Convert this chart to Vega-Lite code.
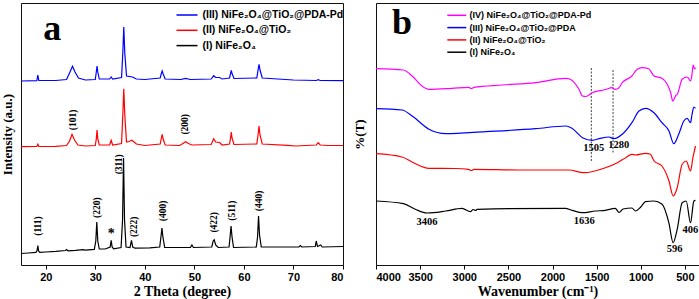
{
  "$schema": "https://vega.github.io/schema/vega-lite/v6.json",
  "padding": {"left": 0, "top": 2, "right": 2, "bottom": 0},
  "background": "white",
  "spacing": 8,
  "datasets": {
    "xrd": [
      {"sample":"I","theta":15,"intensity":11.5},{"sample":"I","theta":16.5,"intensity":12},{"sample":"I","theta":18.0,"intensity":12.6},{"sample":"I","theta":18.25,"intensity":14.5},{"sample":"I","theta":18.4,"intensity":19.5},{"sample":"I","theta":18.55,"intensity":14},{"sample":"I","theta":18.8,"intensity":12.7},{"sample":"I","theta":20,"intensity":13},{"sample":"I","theta":22,"intensity":13.6},{"sample":"I","theta":24,"intensity":14.5},{"sample":"I","theta":24.2,"intensity":15.5},{"sample":"I","theta":24.5,"intensity":14.2},{"sample":"I","theta":26,"intensity":14.6},{"sample":"I","theta":27.5,"intensity":15.3},{"sample":"I","theta":28,"intensity":14.8},{"sample":"I","theta":29.8,"intensity":15.6},{"sample":"I","theta":30.1,"intensity":24},{"sample":"I","theta":30.3,"intensity":43},{"sample":"I","theta":30.5,"intensity":24},{"sample":"I","theta":30.8,"intensity":16},{"sample":"I","theta":32.0,"intensity":16},{"sample":"I","theta":33.0,"intensity":18},{"sample":"I","theta":33.2,"intensity":24.7},{"sample":"I","theta":33.4,"intensity":18},{"sample":"I","theta":33.7,"intensity":16.2},{"sample":"I","theta":35.2,"intensity":17.5},{"sample":"I","theta":35.5,"intensity":45},{"sample":"I","theta":35.7,"intensity":107},{"sample":"I","theta":35.9,"intensity":45},{"sample":"I","theta":36.2,"intensity":18},{"sample":"I","theta":37.0,"intensity":17.5},{"sample":"I","theta":37.3,"intensity":24.7},{"sample":"I","theta":37.55,"intensity":18},{"sample":"I","theta":38.0,"intensity":16.8},{"sample":"I","theta":41,"intensity":17.2},{"sample":"I","theta":43.0,"intensity":18},{"sample":"I","theta":43.25,"intensity":28},{"sample":"I","theta":43.45,"intensity":37},{"sample":"I","theta":43.65,"intensity":28},{"sample":"I","theta":44.0,"intensity":17.5},{"sample":"I","theta":49.2,"intensity":17.5},{"sample":"I","theta":49.5,"intensity":20},{"sample":"I","theta":49.8,"intensity":17.5},{"sample":"I","theta":53.5,"intensity":18},{"sample":"I","theta":53.8,"intensity":24},{"sample":"I","theta":54.0,"intensity":25.3},{"sample":"I","theta":54.3,"intensity":20},{"sample":"I","theta":54.8,"intensity":17.5},{"sample":"I","theta":57.0,"intensity":18},{"sample":"I","theta":57.2,"intensity":28},{"sample":"I","theta":57.4,"intensity":39},{"sample":"I","theta":57.6,"intensity":28},{"sample":"I","theta":57.9,"intensity":17.5},{"sample":"I","theta":62.5,"intensity":18},{"sample":"I","theta":62.75,"intensity":28},{"sample":"I","theta":62.95,"intensity":49},{"sample":"I","theta":63.15,"intensity":30},{"sample":"I","theta":63.5,"intensity":18},{"sample":"I","theta":66.5,"intensity":18},{"sample":"I","theta":71.1,"intensity":18},{"sample":"I","theta":71.4,"intensity":19.5},{"sample":"I","theta":71.7,"intensity":18},{"sample":"I","theta":74.4,"intensity":18.5},{"sample":"I","theta":74.6,"intensity":24},{"sample":"I","theta":74.85,"intensity":18.5},{"sample":"I","theta":75.5,"intensity":20},{"sample":"I","theta":75.8,"intensity":18},{"sample":"I","theta":80,"intensity":18.5},
      {"sample":"II","theta":15,"intensity":118.3},{"sample":"II","theta":18.2,"intensity":118.5},{"sample":"II","theta":18.4,"intensity":120.7},{"sample":"II","theta":18.6,"intensity":118.5},{"sample":"II","theta":22,"intensity":118.7},{"sample":"II","theta":24.2,"intensity":119.5},{"sample":"II","theta":24.8,"intensity":124},{"sample":"II","theta":25.3,"intensity":130.7},{"sample":"II","theta":25.8,"intensity":125},{"sample":"II","theta":26.5,"intensity":120},{"sample":"II","theta":28,"intensity":119},{"sample":"II","theta":30.0,"intensity":119.5},{"sample":"II","theta":30.2,"intensity":126},{"sample":"II","theta":30.35,"intensity":135},{"sample":"II","theta":30.5,"intensity":126},{"sample":"II","theta":30.8,"intensity":120},{"sample":"II","theta":32.9,"intensity":120},{"sample":"II","theta":33.2,"intensity":124.7},{"sample":"II","theta":33.5,"intensity":120},{"sample":"II","theta":35.3,"intensity":121.5},{"sample":"II","theta":35.55,"intensity":150},{"sample":"II","theta":35.75,"intensity":176.3},{"sample":"II","theta":35.95,"intensity":150},{"sample":"II","theta":36.3,"intensity":123},{"sample":"II","theta":36.8,"intensity":123.5},{"sample":"II","theta":37.4,"intensity":124.7},{"sample":"II","theta":38.3,"intensity":121},{"sample":"II","theta":40,"intensity":119.5},{"sample":"II","theta":43.1,"intensity":121},{"sample":"II","theta":43.3,"intensity":126},{"sample":"II","theta":43.5,"intensity":130.7},{"sample":"II","theta":43.7,"intensity":126},{"sample":"II","theta":44.1,"intensity":120},{"sample":"II","theta":47.0,"intensity":119.5},{"sample":"II","theta":47.7,"intensity":121.5},{"sample":"II","theta":48.2,"intensity":123.3},{"sample":"II","theta":48.8,"intensity":121.5},{"sample":"II","theta":49.5,"intensity":120},{"sample":"II","theta":53.4,"intensity":120.5},{"sample":"II","theta":53.9,"intensity":126.3},{"sample":"II","theta":54.3,"intensity":123},{"sample":"II","theta":55.1,"intensity":122.5},{"sample":"II","theta":55.6,"intensity":120},{"sample":"II","theta":57.1,"intensity":121},{"sample":"II","theta":57.3,"intensity":127},{"sample":"II","theta":57.45,"intensity":133},{"sample":"II","theta":57.6,"intensity":127},{"sample":"II","theta":58,"intensity":120.5},{"sample":"II","theta":62.6,"intensity":121},{"sample":"II","theta":62.85,"intensity":130},{"sample":"II","theta":63.05,"intensity":139},{"sample":"II","theta":63.25,"intensity":130},{"sample":"II","theta":63.7,"intensity":121},{"sample":"II","theta":68.8,"intensity":119.7},{"sample":"II","theta":70.5,"intensity":119},{"sample":"II","theta":74.6,"intensity":120},{"sample":"II","theta":75.0,"intensity":122.3},{"sample":"II","theta":75.4,"intensity":120},{"sample":"II","theta":77,"intensity":119.5},{"sample":"II","theta":80,"intensity":119.5},
      {"sample":"III","theta":15,"intensity":184},{"sample":"III","theta":18.2,"intensity":184.3},{"sample":"III","theta":18.4,"intensity":190},{"sample":"III","theta":18.6,"intensity":184.5},{"sample":"III","theta":22,"intensity":184.5},{"sample":"III","theta":24.2,"intensity":185.5},{"sample":"III","theta":24.8,"intensity":192},{"sample":"III","theta":25.4,"intensity":198.7},{"sample":"III","theta":25.9,"intensity":193},{"sample":"III","theta":26.6,"intensity":187},{"sample":"III","theta":28,"intensity":185},{"sample":"III","theta":30.0,"intensity":185.5},{"sample":"III","theta":30.2,"intensity":193},{"sample":"III","theta":30.35,"intensity":199},{"sample":"III","theta":30.5,"intensity":193},{"sample":"III","theta":30.8,"intensity":186},{"sample":"III","theta":32.9,"intensity":186},{"sample":"III","theta":33.2,"intensity":188},{"sample":"III","theta":33.5,"intensity":186},{"sample":"III","theta":35.3,"intensity":187.5},{"sample":"III","theta":35.55,"intensity":212},{"sample":"III","theta":35.75,"intensity":238},{"sample":"III","theta":35.95,"intensity":212},{"sample":"III","theta":36.3,"intensity":189},{"sample":"III","theta":37.5,"intensity":188},{"sample":"III","theta":38.3,"intensity":186},{"sample":"III","theta":40,"intensity":185.5},{"sample":"III","theta":43.1,"intensity":187},{"sample":"III","theta":43.3,"intensity":191},{"sample":"III","theta":43.5,"intensity":194},{"sample":"III","theta":43.7,"intensity":191},{"sample":"III","theta":44.1,"intensity":186},{"sample":"III","theta":47.3,"intensity":185.5},{"sample":"III","theta":48.2,"intensity":186.7},{"sample":"III","theta":49.2,"intensity":185.5},{"sample":"III","theta":53.4,"intensity":186},{"sample":"III","theta":53.9,"intensity":189.3},{"sample":"III","theta":54.3,"intensity":187.5},{"sample":"III","theta":55.1,"intensity":187.5},{"sample":"III","theta":55.6,"intensity":186},{"sample":"III","theta":57.1,"intensity":187},{"sample":"III","theta":57.3,"intensity":191.5},{"sample":"III","theta":57.45,"intensity":194.7},{"sample":"III","theta":57.6,"intensity":191.5},{"sample":"III","theta":58,"intensity":186.5},{"sample":"III","theta":62.6,"intensity":187},{"sample":"III","theta":62.85,"intensity":195},{"sample":"III","theta":63.05,"intensity":200.7},{"sample":"III","theta":63.25,"intensity":195},{"sample":"III","theta":63.7,"intensity":187},{"sample":"III","theta":70,"intensity":185},{"sample":"III","theta":74.6,"intensity":184.5},{"sample":"III","theta":75.0,"intensity":185.3},{"sample":"III","theta":75.4,"intensity":184.5},{"sample":"III","theta":80,"intensity":184.3}
    ],
    "ftir": [
      {"sample":"IV","wavenumber":4000,"transmittance":196.3},{"sample":"IV","wavenumber":3690,"transmittance":195},{"sample":"IV","wavenumber":3590,"transmittance":189},{"sample":"IV","wavenumber":3480,"transmittance":179},{"sample":"IV","wavenumber":3400,"transmittance":175.7},{"sample":"IV","wavenumber":3140,"transmittance":176.7},{"sample":"IV","wavenumber":2950,"transmittance":177.7},{"sample":"IV","wavenumber":2920,"transmittance":176.5},{"sample":"IV","wavenumber":2890,"transmittance":177.7},{"sample":"IV","wavenumber":2570,"transmittance":180},{"sample":"IV","wavenumber":2190,"transmittance":182.3},{"sample":"IV","wavenumber":1850,"transmittance":186.7},{"sample":"IV","wavenumber":1800,"transmittance":185.7},{"sample":"IV","wavenumber":1700,"transmittance":175.7},{"sample":"IV","wavenumber":1660,"transmittance":169},{"sample":"IV","wavenumber":1625,"transmittance":168.5},{"sample":"IV","wavenumber":1590,"transmittance":169.7},{"sample":"IV","wavenumber":1550,"transmittance":172.3},{"sample":"IV","wavenumber":1440,"transmittance":174.7},{"sample":"IV","wavenumber":1400,"transmittance":175.5},{"sample":"IV","wavenumber":1325,"transmittance":177.3},{"sample":"IV","wavenumber":1290,"transmittance":175.7},{"sample":"IV","wavenumber":1250,"transmittance":177},{"sample":"IV","wavenumber":1210,"transmittance":182.3},{"sample":"IV","wavenumber":1100,"transmittance":189},{"sample":"IV","wavenumber":1040,"transmittance":195.7},{"sample":"IV","wavenumber":985,"transmittance":197.3},{"sample":"IV","wavenumber":910,"transmittance":196.3},{"sample":"IV","wavenumber":850,"transmittance":189},{"sample":"IV","wavenumber":760,"transmittance":186.7},{"sample":"IV","wavenumber":700,"transmittance":180.7},{"sample":"IV","wavenumber":660,"transmittance":172},{"sample":"IV","wavenumber":637,"transmittance":164},{"sample":"IV","wavenumber":600,"transmittance":170},{"sample":"IV","wavenumber":587,"transmittance":170.7},{"sample":"IV","wavenumber":531,"transmittance":185.7},{"sample":"IV","wavenumber":474,"transmittance":188},{"sample":"IV","wavenumber":436,"transmittance":184},{"sample":"IV","wavenumber":420,"transmittance":190},{"sample":"IV","wavenumber":406,"transmittance":200},{"sample":"IV","wavenumber":390,"transmittance":196},{"sample":"IV","wavenumber":380,"transmittance":197.3},
      {"sample":"III","wavenumber":4000,"transmittance":156.3},{"sample":"III","wavenumber":3705,"transmittance":155},{"sample":"III","wavenumber":3590,"transmittance":149},{"sample":"III","wavenumber":3400,"transmittance":135.7},{"sample":"III","wavenumber":3210,"transmittance":131.3},{"sample":"III","wavenumber":2760,"transmittance":133.3},{"sample":"III","wavenumber":2190,"transmittance":136.3},{"sample":"III","wavenumber":1850,"transmittance":139},{"sample":"III","wavenumber":1780,"transmittance":136.7},{"sample":"III","wavenumber":1660,"transmittance":127.3},{"sample":"III","wavenumber":1550,"transmittance":124.7},{"sample":"III","wavenumber":1460,"transmittance":126.7},{"sample":"III","wavenumber":1360,"transmittance":128},{"sample":"III","wavenumber":1305,"transmittance":126.3},{"sample":"III","wavenumber":1210,"transmittance":130.7},{"sample":"III","wavenumber":1100,"transmittance":142.3},{"sample":"III","wavenumber":1020,"transmittance":154},{"sample":"III","wavenumber":945,"transmittance":156.7},{"sample":"III","wavenumber":850,"transmittance":152.3},{"sample":"III","wavenumber":760,"transmittance":142.3},{"sample":"III","wavenumber":680,"transmittance":134},{"sample":"III","wavenumber":625,"transmittance":121.3},{"sample":"III","wavenumber":570,"transmittance":130.7},{"sample":"III","wavenumber":512,"transmittance":144},{"sample":"III","wavenumber":474,"transmittance":146.7},{"sample":"III","wavenumber":436,"transmittance":142.3},{"sample":"III","wavenumber":420,"transmittance":150},{"sample":"III","wavenumber":398,"transmittance":158},{"sample":"III","wavenumber":380,"transmittance":156.7},
      {"sample":"II","wavenumber":4000,"transmittance":111.3},{"sample":"II","wavenumber":3705,"transmittance":108},{"sample":"II","wavenumber":3575,"transmittance":102.3},{"sample":"II","wavenumber":3400,"transmittance":96.7},{"sample":"II","wavenumber":3100,"transmittance":96.5},{"sample":"II","wavenumber":2950,"transmittance":95.7},{"sample":"II","wavenumber":2920,"transmittance":94.5},{"sample":"II","wavenumber":2890,"transmittance":95.7},{"sample":"II","wavenumber":2380,"transmittance":95},{"sample":"II","wavenumber":1815,"transmittance":95},{"sample":"II","wavenumber":1645,"transmittance":92.3},{"sample":"II","wavenumber":1400,"transmittance":97.3},{"sample":"II","wavenumber":1265,"transmittance":102.3},{"sample":"II","wavenumber":1170,"transmittance":107.3},{"sample":"II","wavenumber":1100,"transmittance":110.7},{"sample":"II","wavenumber":1060,"transmittance":110},{"sample":"II","wavenumber":945,"transmittance":111.7},{"sample":"II","wavenumber":890,"transmittance":110.7},{"sample":"II","wavenumber":850,"transmittance":104},{"sample":"II","wavenumber":760,"transmittance":99},{"sample":"II","wavenumber":680,"transmittance":84},{"sample":"II","wavenumber":633,"transmittance":69},{"sample":"II","wavenumber":587,"transmittance":77.3},{"sample":"II","wavenumber":531,"transmittance":100.7},{"sample":"II","wavenumber":485,"transmittance":104},{"sample":"II","wavenumber":436,"transmittance":94},{"sample":"II","wavenumber":409,"transmittance":107.3},{"sample":"II","wavenumber":390,"transmittance":115},{"sample":"II","wavenumber":380,"transmittance":119},
      {"sample":"I","wavenumber":4000,"transmittance":64},{"sample":"I","wavenumber":3690,"transmittance":61.3},{"sample":"I","wavenumber":3555,"transmittance":55.7},{"sample":"I","wavenumber":3420,"transmittance":52},{"sample":"I","wavenumber":3210,"transmittance":54},{"sample":"I","wavenumber":3025,"transmittance":56.7},{"sample":"I","wavenumber":2930,"transmittance":53.3},{"sample":"I","wavenumber":2900,"transmittance":55.5},{"sample":"I","wavenumber":2870,"transmittance":54.5},{"sample":"I","wavenumber":2855,"transmittance":55.7},{"sample":"I","wavenumber":1855,"transmittance":56.7},{"sample":"I","wavenumber":1778,"transmittance":54.7},{"sample":"I","wavenumber":1664,"transmittance":52.3},{"sample":"I","wavenumber":1514,"transmittance":54},{"sample":"I","wavenumber":1400,"transmittance":54.7},{"sample":"I","wavenumber":1290,"transmittance":56.7},{"sample":"I","wavenumber":1245,"transmittance":52.5},{"sample":"I","wavenumber":1200,"transmittance":56},{"sample":"I","wavenumber":1100,"transmittance":57},{"sample":"I","wavenumber":1060,"transmittance":54},{"sample":"I","wavenumber":1000,"transmittance":58},{"sample":"I","wavenumber":947,"transmittance":63.3},{"sample":"I","wavenumber":852,"transmittance":64},{"sample":"I","wavenumber":758,"transmittance":60.7},{"sample":"I","wavenumber":682,"transmittance":42.3},{"sample":"I","wavenumber":633,"transmittance":22.3},{"sample":"I","wavenumber":587,"transmittance":35.7},{"sample":"I","wavenumber":531,"transmittance":62.3},{"sample":"I","wavenumber":485,"transmittance":64},{"sample":"I","wavenumber":436,"transmittance":42.3},{"sample":"I","wavenumber":398,"transmittance":64},{"sample":"I","wavenumber":380,"transmittance":64.7}
    ]
  },
  "resolve": {"scale": {"color": "independent", "x": "independent", "y": "independent"}, "legend": {"color": "independent"}},
  "hconcat": [
    {
      "width": 322,
      "height": 262,
      "layer": [
        {
          "data": {"name": "xrd"},
          "mark": {"type": "line", "strokeWidth": 1.2, "clip": true},
          "encoding": {
            "x": {"field": "theta", "type": "quantitative", "title": "2 Theta (degree)",
                  "scale": {"domain": [15, 80], "nice": false, "zero": false},
                  "axis": {"values": [20, 30, 40, 50, 60, 70, 80], "format": "d", "labelPadding": 2, "titlePadding": 2}},
            "y": {"field": "intensity", "type": "quantitative", "title": "Intensity (a.u.)",
                  "scale": {"domain": [0, 262], "nice": false, "zero": false},
                  "axis": {"titlePadding": 7}},
            "color": {"field": "sample", "type": "nominal",
                      "scale": {"domain": ["III", "II", "I"], "range": ["#0000ff", "#ff0000", "#000000"]},
                      "legend": {"orient": "none", "legendX": 157.5, "legendY": 3.5, "title": null, "padding": 0,
                                 "symbolType": "M-1.4,0H1.4", "symbolSize": 225, "symbolStrokeWidth": 1.5,
                                 "labelOffset": 7, "rowPadding": 1.3, "labelFontSize": 10.5, "labelFont": "Liberation Sans",
                                 "labelFontWeight": "bold", "labelColor": "#000", "labelLimit": 300,
                                 "labelExpr": "datum.label == 'III' ? '(III) NiFe₂O₄@TiO₂@PDA-Pd' : datum.label == 'II' ? '(II) NiFe₂O₄@TiO₂' : '(I) NiFe₂O₄'"}}
          }
        },
        {
          "data": {"values": [
            {"theta": 18.4, "intensity": 39, "label": "(111)"},
            {"theta": 30.3, "intensity": 57.3, "label": "(220)"},
            {"theta": 34.7, "intensity": 100.7, "label": "(311)"},
            {"theta": 37.75, "intensity": 38.2, "label": "(222)"},
            {"theta": 43.6, "intensity": 54, "label": "(400)"},
            {"theta": 54.05, "intensity": 42.7, "label": "(422)"},
            {"theta": 57.6, "intensity": 54.3, "label": "(511)"},
            {"theta": 63.1, "intensity": 64, "label": "(440)"},
            {"theta": 25.5, "intensity": 145, "label": "(101)"},
            {"theta": 48.2, "intensity": 140.7, "label": "(200)"}
          ]},
          "mark": {"type": "text", "angle": 270, "align": "center", "baseline": "middle", "font": "Liberation Serif", "fontWeight": "bold", "fontSize": 9.5, "color": "#000"},
          "encoding": {
            "x": {"field": "theta", "type": "quantitative"},
            "y": {"field": "intensity", "type": "quantitative"},
            "text": {"field": "label"}
          }
        },
        {
          "data": {"values": [{"theta": 33.2, "intensity": 31.5, "label": "*"}]},
          "mark": {"type": "text", "align": "center", "baseline": "middle", "font": "Liberation Serif", "fontWeight": "bold", "fontSize": 14, "color": "#000"},
          "encoding": {
            "x": {"field": "theta", "type": "quantitative"},
            "y": {"field": "intensity", "type": "quantitative"},
            "text": {"field": "label"}
          }
        },
        {
          "data": {"values": [{"theta": 21.3, "intensity": 236, "label": "a"}]},
          "mark": {"type": "text", "align": "center", "baseline": "middle", "font": "Liberation Serif", "fontWeight": "bold", "fontSize": 36, "color": "#000"},
          "encoding": {
            "x": {"field": "theta", "type": "quantitative"},
            "y": {"field": "intensity", "type": "quantitative"},
            "text": {"field": "label"}
          }
        }
      ]
    },
    {
      "width": 323,
      "height": 262,
      "layer": [
        {
          "data": {"values": [
            {"wavenumber": 1560, "transmittance": 197, "transmittance2": 104},
            {"wavenumber": 1314, "transmittance": 195, "transmittance2": 112}
          ]},
          "mark": {"type": "rule", "strokeDash": [2, 1.5], "strokeWidth": 1, "color": "#444"},
          "encoding": {
            "x": {"field": "wavenumber", "type": "quantitative", "title": "Wavenumber (cm⁻¹)"},
            "y": {"field": "transmittance", "type": "quantitative", "title": "%(T)"},
            "y2": {"field": "transmittance2"}
          }
        },
        {
          "data": {"name": "ftir"},
          "mark": {"type": "line", "strokeWidth": 1.2, "clip": true, "interpolate": "monotone"},
          "encoding": {
            "x": {"field": "wavenumber", "type": "quantitative", "title": "Wavenumber (cm⁻¹)",
                  "scale": {"domain": [4000, 340], "nice": false, "zero": false},
                  "axis": {"values": [4000, 3500, 3000, 2500, 2000, 1500, 1000, 500], "format": "d", "labelPadding": 2, "titlePadding": 2}},
            "y": {"field": "transmittance", "type": "quantitative", "title": "%(T)",
                  "scale": {"domain": [0, 262], "nice": false, "zero": false},
                  "axis": {"titlePadding": 10}},
            "color": {"field": "sample", "type": "nominal",
                      "scale": {"domain": ["IV", "III", "II", "I"], "range": ["#ff00ff", "#0000ff", "#ff0000", "#000000"]},
                      "legend": {"orient": "none", "legendX": 73.8, "legendY": 5.3, "title": null, "padding": 0,
                                 "symbolType": "M-1.58,0H1.58", "symbolSize": 144, "symbolStrokeWidth": 1.5,
                                 "labelOffset": 5.8, "rowPadding": 0.3, "labelFontSize": 9, "labelFont": "Liberation Sans",
                                 "labelFontWeight": "bold", "labelColor": "#000", "labelLimit": 300,
                                 "labelExpr": "datum.label == 'IV' ? '(IV) NiFe₂O₄@TiO₂@PDA-Pd' : datum.label == 'III' ? '(III) NiFe₂O₄@TiO₂@PDA' : datum.label == 'II' ? '(II) NiFe₂O₄@TiO₂' : '(I) NiFe₂O₄'"}}
          }
        },
        {
          "data": {"values": [
            {"wavenumber": 3422, "transmittance": 43.3, "label": "3406"},
            {"wavenumber": 1640, "transmittance": 44, "label": "1636"},
            {"wavenumber": 615, "transmittance": 15.7, "label": "596"},
            {"wavenumber": 438, "transmittance": 34.7, "label": "406"},
            {"wavenumber": 1533, "transmittance": 117, "label": "1505"},
            {"wavenumber": 1250, "transmittance": 120, "label": "1280"}
          ]},
          "mark": {"type": "text", "align": "center", "baseline": "middle", "font": "Liberation Serif", "fontWeight": "bold", "fontSize": 10.5, "color": "#000"},
          "encoding": {
            "x": {"field": "wavenumber", "type": "quantitative"},
            "y": {"field": "transmittance", "type": "quantitative"},
            "text": {"field": "label"}
          }
        },
        {
          "data": {"values": [{"wavenumber": 3706, "transmittance": 242, "label": "b"}]},
          "mark": {"type": "text", "align": "center", "baseline": "middle", "font": "Liberation Serif", "fontWeight": "bold", "fontSize": 36, "color": "#000"},
          "encoding": {
            "x": {"field": "wavenumber", "type": "quantitative"},
            "y": {"field": "transmittance", "type": "quantitative"},
            "text": {"field": "label"}
          }
        }
      ]
    }
  ],
  "config": {
    "font": "Liberation Sans",
    "view": {"stroke": "#111", "strokeWidth": 1},
    "axis": {"grid": false, "domain": false, "minExtent": 0, "labelFont": "Liberation Sans", "labelFontWeight": "bold",
             "labelFontSize": 11, "labelColor": "#000", "titleFont": "Liberation Serif", "titleFontWeight": "bold",
             "titleFontSize": 14, "titleColor": "#000", "tickColor": "#000", "tickSize": 4, "tickWidth": 1},
    "axisY": {"labels": false, "ticks": false, "titleFontSize": 13}
  }
}
